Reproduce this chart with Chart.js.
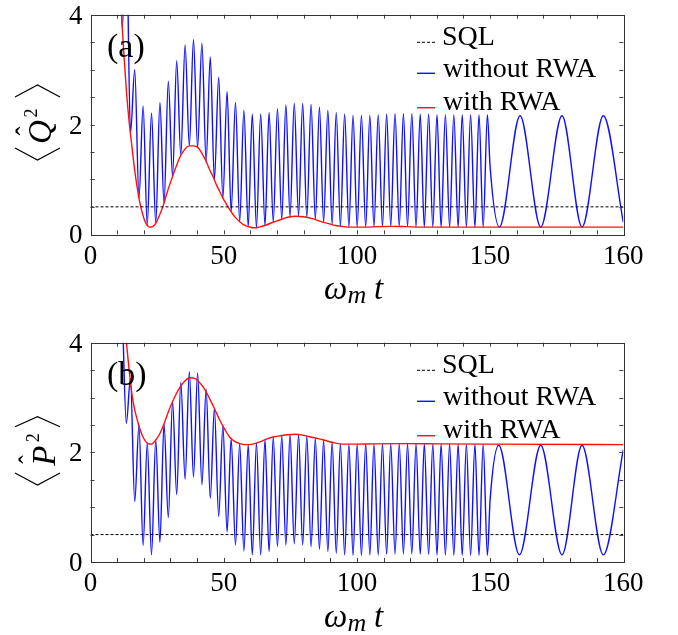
<!DOCTYPE html>
<html><head><meta charset="utf-8">
<script src="https://cdn.jsdelivr.net/npm/chart.js@4.4.1/dist/chart.umd.min.js"></script>
<style>
html,body{margin:0;padding:0;background:#fff;}
#wrap{position:relative;width:678px;height:635px;overflow:hidden;background:#fff;}
canvas{position:absolute;left:0;}
#c1{top:0;} #c2{top:317px;}
</style></head><body>
<div id="wrap"><canvas id="c1" width="678" height="317"></canvas><canvas id="c2" width="678" height="318"></canvas></div>
<script>
// ---------------- data ----------------
// times of the fast oscillation extrema (maxima of <Q^2>, minima of <P^2>)
const fastTimesA = [10.3, 13.45, 16.6, 19.75, 22.9, 26.06, 29.21, 32.36, 35.51, 38.66, 41.82, 44.97, 48.12, 51.27, 54.42, 57.58, 60.73, 63.88, 67.03, 70.18, 73.34, 76.49, 79.64, 82.79, 85.94, 89.1, 92.25, 95.4, 98.55, 101.7, 104.86, 108.01, 111.16, 114.31, 117.46, 120.62, 123.77, 126.92, 130.07, 133.22, 136.38, 139.53, 142.68, 145.83, 148.98];
// times of the other extrema (minima of <Q^2>, maxima of <P^2>)
const fastTimesB = [11.9, 15.0, 18.2, 21.3, 24.5, 27.6, 30.8, 33.9, 37.1, 40.2, 43.4, 46.5, 49.7, 52.8, 56.0, 59.2, 62.3, 65.5, 68.6, 71.8, 74.9, 78.1, 81.2, 84.4, 87.5, 90.7, 93.8, 97.0, 100.1, 103.3, 106.4, 109.6, 112.7, 115.9, 119.0, 122.2, 125.3, 128.5, 131.6, 134.8, 138.0, 141.1, 144.3, 147.4];

// <Q^2> without RWA
const qAtA = [8.0, 5.5, 3.0, 2.34, 2.21, 2.40, 2.79, 3.16, 3.45, 3.55, 3.48, 3.23, 2.86, 2.6, 2.4, 2.26, 2.19, 2.19, 2.22, 2.29, 2.36, 2.39, 2.39, 2.37, 2.32, 2.26, 2.22, 2.19, 2.17, 2.17, 2.17, 2.18, 2.19, 2.2, 2.2, 2.2, 2.19, 2.19, 2.18, 2.18, 2.18, 2.18, 2.18, 2.18, 2.18];
const qAtB = [3.75, 1.84, 0.66, 0.17, 0.2, 0.56, 1.05, 1.44, 1.61, 1.58, 1.33, 0.99, 0.66, 0.42, 0.23, 0.14, 0.12, 0.16, 0.22, 0.27, 0.315, 0.33, 0.31, 0.27, 0.22, 0.18, 0.15, 0.135, 0.13, 0.13, 0.135, 0.14, 0.145, 0.145, 0.14, 0.135, 0.13, 0.13, 0.13, 0.13, 0.13, 0.13, 0.13, 0.13];
const qTailTimes = [150.0, 150.7, 152.25, 153.8, 155.4, 156.9, 158.5, 160];
const qTail = [1.23, 0.13, 2.16, 0.13, 2.16, 0.13, 2.16, 0.22];

// <P^2> without RWA
const pAtA = [6.0, 2.53, 1.10, 0.30, 0.13, 0.36, 0.81, 1.23, 1.51, 1.55, 1.41, 1.16, 0.83, 0.55, 0.31, 0.20, 0.13, 0.13, 0.19, 0.28, 0.31, 0.33, 0.31, 0.28, 0.23, 0.19, 0.16, 0.13, 0.12, 0.12, 0.125, 0.13, 0.14, 0.145, 0.145, 0.145, 0.14, 0.135, 0.13, 0.125, 0.12, 0.12, 0.12, 0.12, 0.12];
const pAtB = [4.6, 3.35, 2.5, 2.17, 2.23, 2.52, 2.93, 3.28, 3.47, 3.45, 3.15, 2.80, 2.48, 2.25, 2.16, 2.14, 2.17, 2.23, 2.28, 2.31, 2.33, 2.33, 2.30, 2.26, 2.22, 2.185, 2.16, 2.155, 2.155, 2.155, 2.155, 2.16, 2.16, 2.16, 2.16, 2.16, 2.16, 2.155, 2.155, 2.155, 2.155, 2.15, 2.15, 2.15];
const pTailTimes = [150.0, 150.65, 152.2, 153.8, 155.4, 156.9, 158.5, 160];
const pTail = [1.13, 2.13, 0.13, 2.13, 0.13, 2.13, 0.13, 2.05];

// with RWA
const rwaQTimes = [9, 10.5, 11.6, 12.5, 13.5, 14.5, 15.5, 16.5, 17.5, 18.5, 19.5, 20.5, 21.5, 22.3, 23.3, 24.5, 25.5, 26.5, 27.5, 28.5, 29.7, 31.0, 32.2, 33.5, 34.7, 36.0, 37.2, 38.5, 39.7, 41.0, 42.2, 43.5, 44.7, 46.0, 47.2, 48.5, 49.7, 51.0, 52.2, 53.5, 54.7, 56.0, 57.2, 58.5, 59.7, 61.0, 62.2, 63.5, 66, 68.5, 71, 74, 77.2, 80, 83, 86, 89, 92, 95, 98, 103, 108, 113, 118, 125, 135, 150, 160];
const rwaQ = [7.0, 5.0, 4.03, 3.3, 2.6, 2.05, 1.62, 1.2, 0.86, 0.58, 0.38, 0.23, 0.15, 0.13, 0.14, 0.2, 0.3, 0.42, 0.55, 0.72, 0.9, 1.08, 1.24, 1.4, 1.5, 1.58, 1.61, 1.61, 1.6, 1.54, 1.44, 1.32, 1.18, 1.05, 0.91, 0.78, 0.66, 0.55, 0.455, 0.36, 0.29, 0.23, 0.18, 0.15, 0.134, 0.12, 0.12, 0.135, 0.17, 0.22, 0.26, 0.31, 0.33, 0.32, 0.29, 0.24, 0.2, 0.16, 0.14, 0.13, 0.13, 0.14, 0.145, 0.14, 0.13, 0.13, 0.13, 0.13];
const rwaPTimes = [9, 10.5, 12, 13.5, 14.7, 16.0, 17.9, 19.7, 21.6, 22.9, 24.1, 26.0, 27.9, 29.7, 31.6, 33.5, 35.4, 37.2, 39.1, 41.0, 42.9, 44.7, 46.6, 48.5, 50.4, 52.2, 54.1, 56.0, 57.9, 59.7, 61.6, 63.5, 66.0, 68.5, 71.0, 74, 77, 80, 83.5, 87.2, 91.0, 94.7, 100, 106, 118.5, 131, 150, 160];
const rwaP = [7.0, 5.6, 4.75, 4.0, 3.41, 2.92, 2.53, 2.28, 2.16, 2.15, 2.2, 2.34, 2.56, 2.8, 3.01, 3.18, 3.3, 3.36, 3.35, 3.27, 3.15, 2.98, 2.79, 2.59, 2.42, 2.28, 2.2, 2.16, 2.14, 2.14, 2.16, 2.19, 2.24, 2.28, 2.3, 2.32, 2.33, 2.31, 2.27, 2.23, 2.18, 2.15, 2.15, 2.155, 2.16, 2.155, 2.15, 2.14];

const sqlLevel = 0.5;
const sqlSpan = [0, 160];

const xTickLabels = [0, 50, 100, 150, 160];
const yTickLabels = [0, 2, 4];
const xMinorTicks = [10, 20, 30, 40, 50, 60, 70, 80, 90, 100, 110, 120, 130, 140, 150, 152, 154, 156, 158];
const yMinorTicks = [0.5, 1, 1.5, 2, 2.5, 3, 3.5];
const xBreak = 150;      // axis is stretched after this value
const xBreakFrac = 0.75; // fraction of the axis width used by [0, xBreak]

const labels = ['SQL', 'without RWA', 'with RWA'];

// ---------------- helpers ----------------
function pts(ts, vs) { return ts.map((t, i) => ({x: t, y: vs[i]})); }
function merged() {
  let all = [];
  for (let i = 0; i < arguments.length; i += 2) all = all.concat(pts(arguments[i], arguments[i + 1]));
  return all.sort((a, b) => a.x - b.x);
}

class BrokenLinear extends Chart.LinearScale {
  getPixelForValue(value) {
    let d;
    if (value <= xBreak) d = (value - this.min) / (xBreak - this.min) * xBreakFrac;
    else d = xBreakFrac + (value - xBreak) / (this.max - xBreak) * (1 - xBreakFrac);
    return this.getPixelForDecimal(d);
  }
  getValueForPixel(pixel) {
    const d = this.getDecimalForPixel(pixel);
    if (d <= xBreakFrac) return this.min + d / xBreakFrac * (xBreak - this.min);
    return xBreak + (d - xBreakFrac) / (1 - xBreakFrac) * (this.max - xBreak);
  }
}
BrokenLinear.id = 'brokenLinear';
BrokenLinear.defaults = Chart.LinearScale.defaults;
Chart.register(BrokenLinear);

const SERIF = '"Liberation Serif", "Times New Roman", serif';

function fitInk(ctx, txt, font, lx0, lx1, ly0, ly1) {
  ctx.font = font; ctx.textAlign = 'left'; ctx.textBaseline = 'alphabetic';
  const m = ctx.measureText(txt);
  const w = m.actualBoundingBoxLeft + m.actualBoundingBoxRight;
  const h = m.actualBoundingBoxAscent + m.actualBoundingBoxDescent;
  ctx.save(); ctx.translate(lx0, ly0); ctx.scale((lx1 - lx0) / w, (ly1 - ly0) / h);
  ctx.fillText(txt, m.actualBoundingBoxLeft, m.actualBoundingBoxAscent);
  ctx.restore();
}
function inkAt(ctx, txt, font, xLeft, baseline) {
  ctx.font = font; ctx.textAlign = 'left'; ctx.textBaseline = 'alphabetic';
  const m = ctx.measureText(txt);
  ctx.fillText(txt, xLeft + m.actualBoundingBoxLeft, baseline);
}
// thin extensible angle delimiter (as typeset in math), drawn in the label frame
function angle(ctx, tipX, armX, y0, y1) {
  ctx.beginPath();
  ctx.moveTo(armX, y0); ctx.lineTo(tipX, (y0 + y1) / 2); ctx.lineTo(armX, y1);
  ctx.stroke();
}

function makeDecor(cfg) {
  return {
    id: 'decor' + cfg.tag,
    afterDraw(chart) {
      const ctx = chart.ctx, a = chart.chartArea, xs = chart.scales.x, ys = chart.scales.y;
      ctx.save();
      // inside tick marks
      ctx.strokeStyle = '#444'; ctx.lineWidth = 1;
      const TL = 4;
      ctx.beginPath();
      xMinorTicks.forEach(v => {
        const px = Math.round(xs.getPixelForValue(v)) + 0.5;
        ctx.moveTo(px, a.bottom); ctx.lineTo(px, a.bottom - TL);
        ctx.moveTo(px, a.top); ctx.lineTo(px, a.top + TL);
      });
      yMinorTicks.forEach(v => {
        const py = Math.round(ys.getPixelForValue(v)) + 0.5;
        ctx.moveTo(a.left, py); ctx.lineTo(a.left + TL, py);
        ctx.moveTo(a.right, py); ctx.lineTo(a.right - TL, py);
      });
      ctx.stroke();
      // frame
      ctx.strokeStyle = '#333';
      ctx.strokeRect(Math.round(a.left) + 0.5, Math.round(a.top) + 0.5, Math.round(a.right - a.left), Math.round(a.bottom - a.top));
      ctx.fillStyle = '#000';
      // panel tag
      inkAt(ctx, cfg.tag, '34px ' + SERIF, a.left + 17.5, a.top + 41.8);
      // legend
      const textOff = [30.3, 62, 95.3], sampOff = [27.6, 58.6, 93];
      chart.data.datasets.forEach((ds, i) => {
        ctx.save();
        ctx.strokeStyle = ds.borderColor; ctx.lineWidth = ds.borderWidth;
        ctx.setLineDash(ds.borderDash || []);
        ctx.beginPath(); ctx.moveTo(417, a.top + sampOff[i]); ctx.lineTo(435, a.top + sampOff[i]); ctx.stroke();
        ctx.restore();
        inkAt(ctx, ds.label, '28px ' + SERIF, 443, a.top + textOff[i]);
      });
      // x axis title  ω_m t
      const cx = (a.left + a.right) / 2, bl = a.bottom + 65;
      inkAt(ctx, 'ω', 'italic 33px ' + SERIF, cx - 31.9, bl);
      inkAt(ctx, 'm', 'italic 26px ' + SERIF, cx - 9.5, bl + 4);
      inkAt(ctx, 't', 'italic 33px ' + SERIF, cx + 18.1, bl);
      // y axis title  ⟨X̂²⟩ rotated
      const cy = (a.top + a.bottom) / 2, b = cfg.boxes;
      ctx.save();
      ctx.translate(0, cy); ctx.rotate(-Math.PI / 2);
      ctx.strokeStyle = '#000'; ctx.lineWidth = 1.2; ctx.lineJoin = 'miter';
      angle(ctx, b.lb[0], b.lb[1], 15, 60);
      angle(ctx, b.rb[1], b.rb[0], 15, 60);
      inkAt(ctx, cfg.letter, 'italic 33px ' + SERIF, b.letter[0], b.letter[1]);
      fitInk(ctx, 'ˆ', '30px ' + SERIF, ...b.hat);
      inkAt(ctx, '2', '18px ' + SERIF, b.sup[0], b.sup[1]);
      ctx.restore();
      ctx.restore();
    }
  };
}

function makeChart(canvasId, blue, red, padTop, xAxisH, decorCfg) {
  const tickFont = {family: 'Liberation Serif', size: 27};
  return new Chart(document.getElementById(canvasId), {
    type: 'line',
    data: {
      datasets: [
        {label: labels[0], data: pts(sqlSpan, [sqlLevel, sqlLevel]), borderColor: '#000', borderWidth: 1, borderDash: [3, 2], order: 0},
        {label: labels[1], data: blue, borderColor: '#1010ff', borderWidth: 1.4, cubicInterpolationMode: 'monotone', order: 2},
        {label: labels[2], data: red, borderColor: '#ff1010', borderWidth: 1.4, cubicInterpolationMode: 'monotone', order: 1}
      ]
    },
    options: {
      responsive: false, animation: false, events: [],
      layout: {padding: {left: 0, top: padTop, right: 54.7, bottom: 0}},
      elements: {point: {radius: 0}, line: {borderJoinStyle: 'round'}},
      datasets: {line: {clip: 0}},
      plugins: {legend: {display: false}, tooltip: {enabled: false}},
      scales: {
        x: {
          type: 'brokenLinear', min: 0, max: 160,
          grid: {display: false, drawTicks: false}, border: {display: false},
          ticks: {font: tickFont, color: '#000', padding: 6, autoSkip: false, maxRotation: 0, callback: v => String(v)},
          afterBuildTicks: s => { s.ticks = xTickLabels.map(v => ({value: v})); },
          afterFit: s => { s.height = xAxisH; s.paddingLeft = 0; s.paddingRight = 0; }
        },
        y: {
          type: 'linear', min: 0, max: 4,
          grid: {display: false, drawTicks: false}, border: {display: false},
          ticks: {font: tickFont, color: '#000', padding: 8, labelOffset: 2, callback: v => String(v)},
          afterBuildTicks: s => { s.ticks = yTickLabels.map(v => ({value: v})); },
          afterFit: s => { s.width = 90.5; s.paddingTop = 0; s.paddingBottom = 0; }
        }
      }
    },
    plugins: [makeDecor(decorCfg)]
  });
}

// boxes in the rotated label frame: along-text coordinate first, then across
makeChart('c1',
  merged(fastTimesA, qAtA, fastTimesB, qAtB, qTailTimes, qTail),
  pts(rwaQTimes, rwaQ), 14.7, 82.7,
  {tag: '(a)', letter: 'Q', boxes: {
    lb: [-35.5, -23.5], letter: [-18.5, 51], hat: [-11, -2, 15, 20],
    sup: [7, 37], rb: [27.5, 39.5]}});

makeChart('c2',
  merged(fastTimesA, pAtA, fastTimesB, pAtB, pTailTimes, pTail),
  pts(rwaPTimes, rwaP), 25.7, 73,
  {tag: '(b)', letter: 'P', boxes: {
    lb: [-32.7, -20.7], letter: [-14.4, 55], hat: [-11.5, -3, 18, 23],
    sup: [10, 39], rb: [25.6, 35.6]}});
</script>
</body></html>
